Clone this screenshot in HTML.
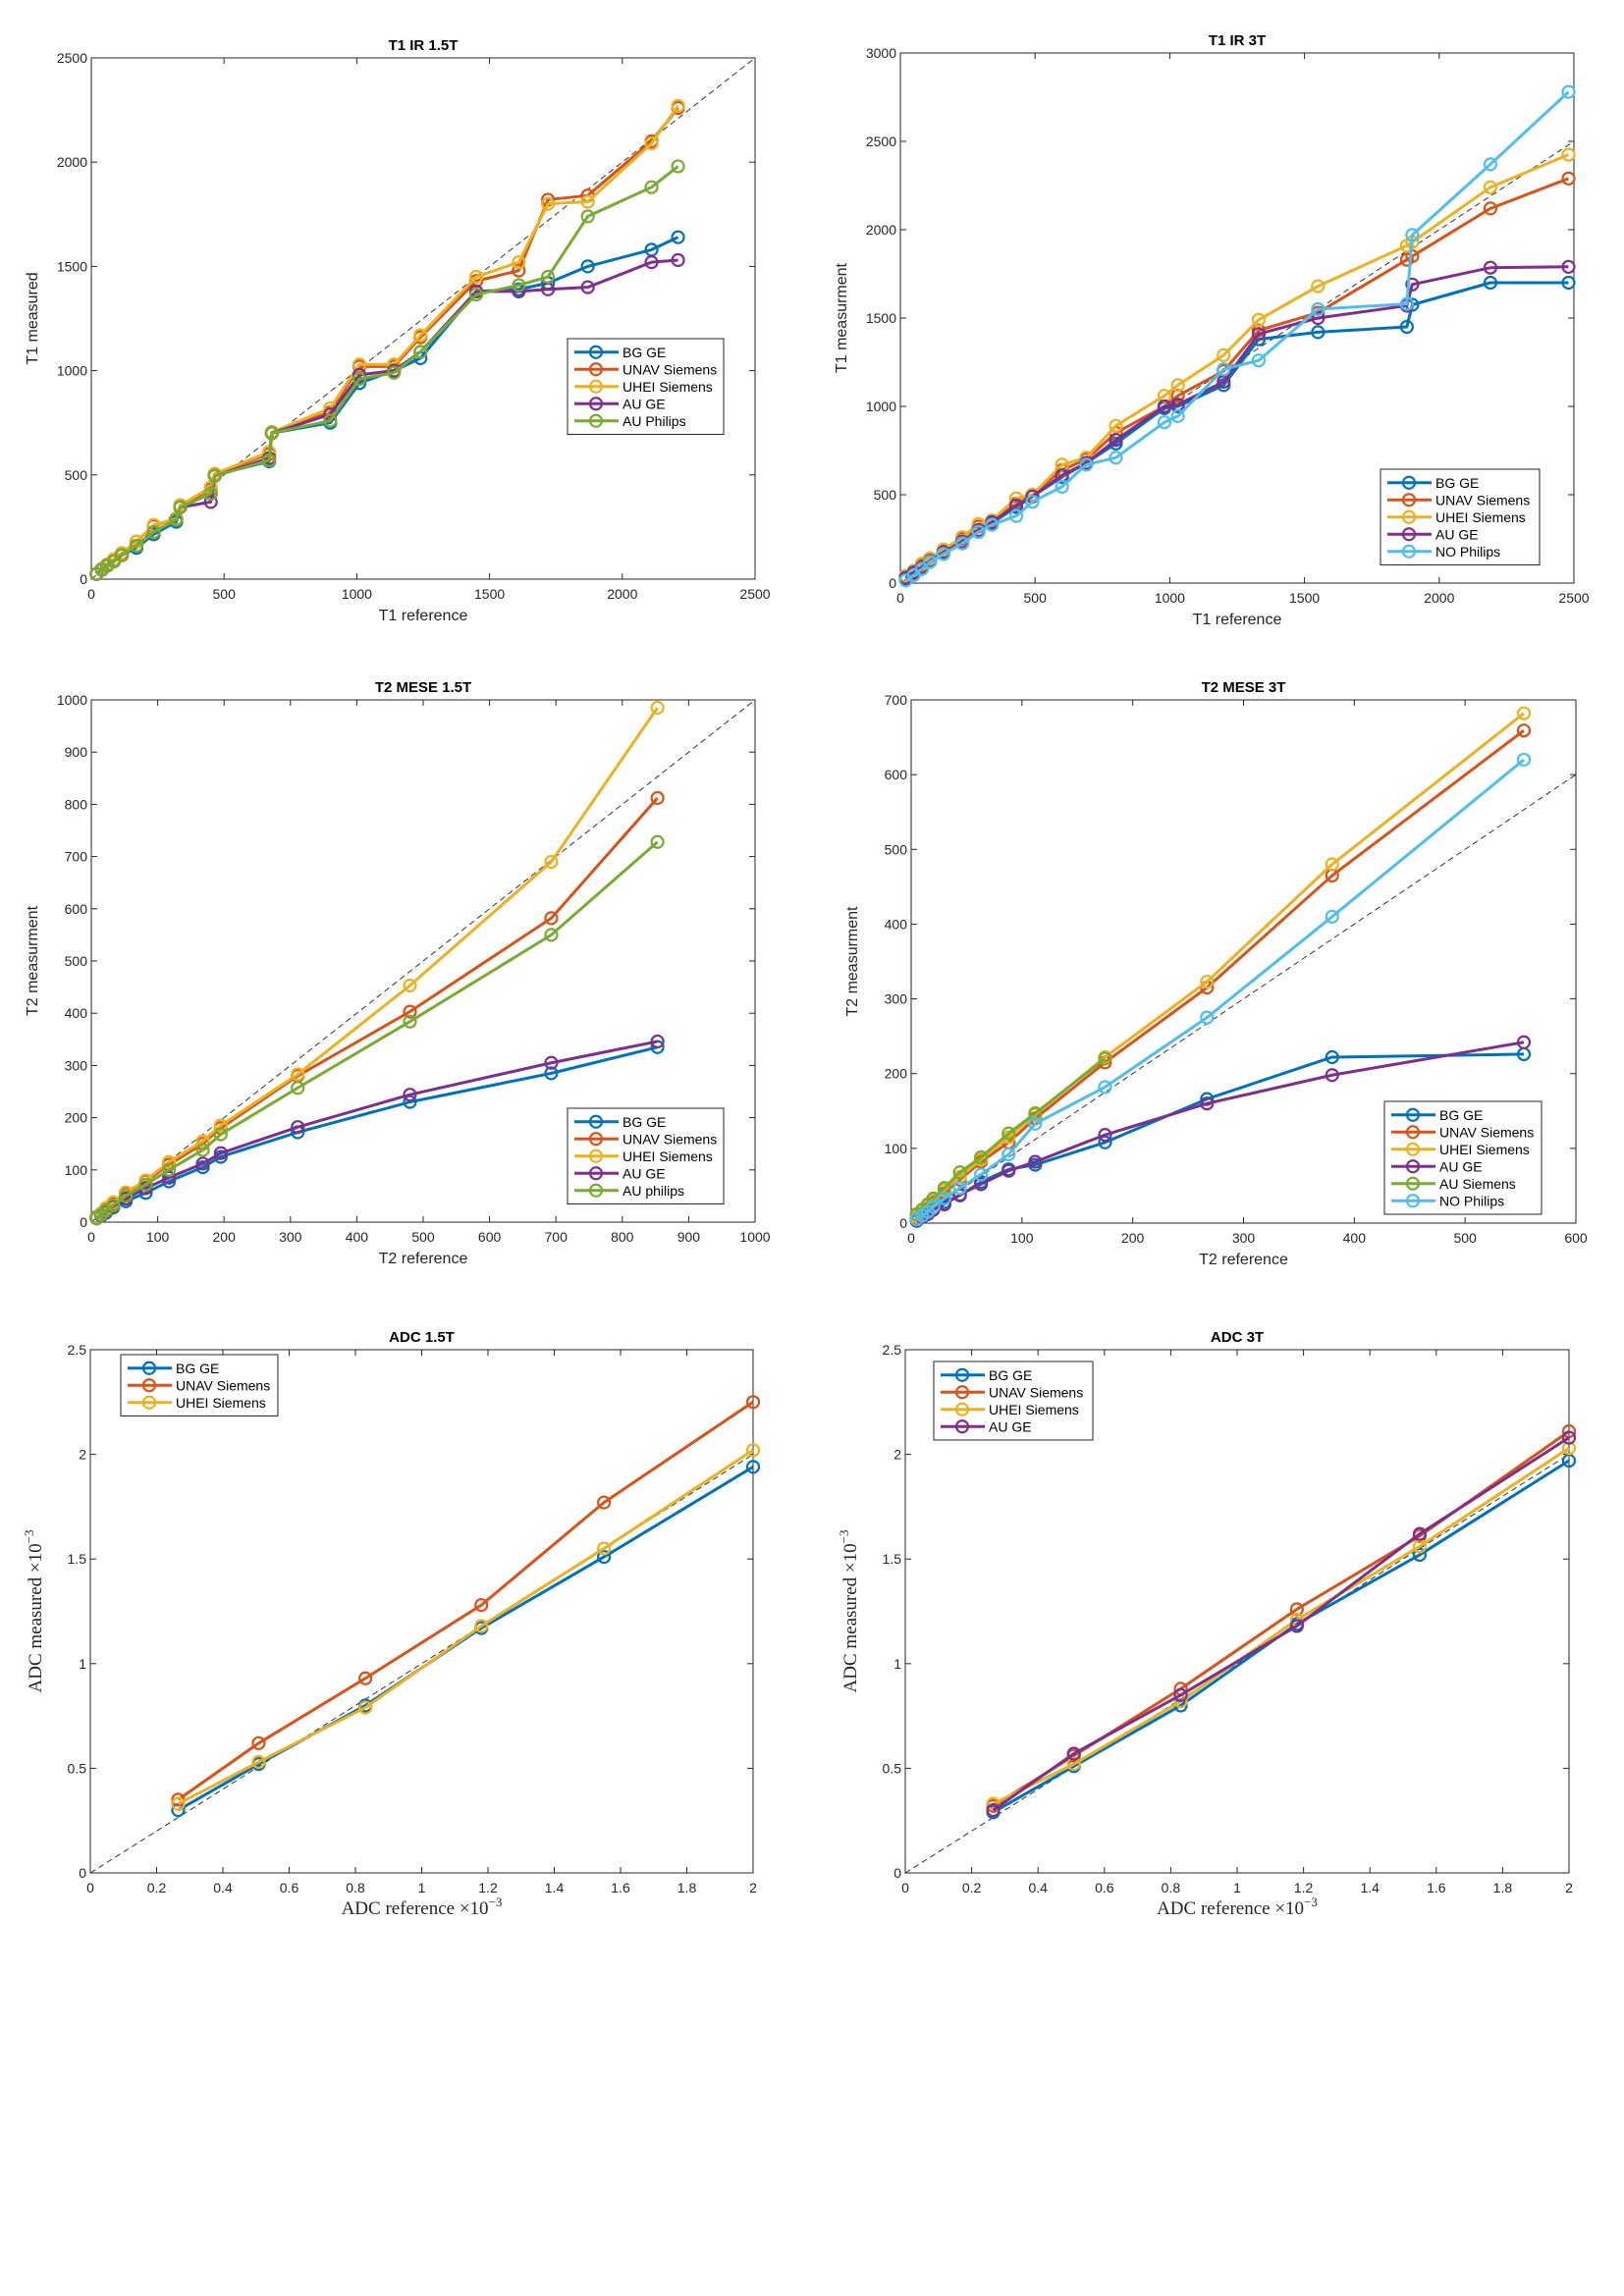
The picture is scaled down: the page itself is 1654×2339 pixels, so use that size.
<!DOCTYPE html>
<html><head><meta charset="utf-8"><style>
html,body{margin:0;padding:0;background:#fff;}
svg{display:block;font-family:"Liberation Sans",sans-serif;}
</style></head><body>
<svg id="fig" width="1654" height="2339" viewBox="0 0 1654 2339" xmlns="http://www.w3.org/2000/svg"></svg>
<script>
const COLORS=["#0072BD","#D95319","#EDB120","#7E2F8E","#77AC30","#4DBEEE"];
// ---- T1 IR 1.5T
const t1a_x=[20,40,60,85,115,170,235,320,335,450,465,670,680,900,1010,1140,1240,1450,1610,1720,1870,2110,2210];
const t1a_names=["BG GE","UNAV Siemens","UHEI Siemens","AU GE","AU Philips"];
const t1a_bg=[25,45,65,85,115,150,215,275,345,410,500,565,700,750,940,1000,1060,1380,1390,1420,1500,1580,1640];
const t1a_unav=[25,50,70,95,125,180,255,290,355,430,505,600,705,800,1020,1020,1160,1430,1480,1820,1840,2100,2260];
const t1a_uhei=[25,50,70,95,125,180,260,290,355,440,505,610,705,820,1030,1030,1170,1450,1520,1800,1810,2090,2270];
const t1a_auge=[25,45,65,85,115,160,225,285,345,370,495,580,700,790,980,1000,1090,1380,1380,1390,1400,1520,1530];
const t1a_aup=[25,45,65,85,115,160,225,285,345,410,495,570,700,760,960,990,1090,1365,1410,1450,1740,1880,1980];
const t1a_xticks=[0,500,1000,1500,2000,2500];
const t1a_yticks=[0,500,1000,1500,2000,2500];
// ---- T1 IR 3T
const t1b_x=[20,50,80,110,160,230,290,340,430,490,600,690,800,980,1030,1200,1330,1550,1880,1900,2190,2480];
const t1b_names=["BG GE","UNAV Siemens","UHEI Siemens","AU GE","NO Philips"];
const t1b_bg=[20,50,80,120,165,225,290,340,430,490,600,680,790,990,1000,1120,1380,1420,1450,1575,1700,1700];
const t1b_unav=[40,60,100,130,180,250,320,350,450,500,640,700,850,1000,1060,1200,1430,1530,1830,1850,2120,2290];
const t1b_uhei=[40,70,110,140,190,260,335,355,480,500,670,710,890,1060,1120,1290,1490,1680,1910,1930,2240,2425];
const t1b_auge=[30,60,90,125,175,235,300,345,440,490,610,680,810,1000,1010,1140,1410,1500,1570,1690,1785,1790];
const t1b_nop=[15,45,80,120,165,225,290,330,380,460,545,670,710,910,945,1210,1260,1550,1580,1970,2370,2780];
const t1b_xticks=[0,500,1000,1500,2000,2500];
const t1b_yticks=[0,500,1000,1500,2000,2500,3000];
// ---- T2 MESE 1.5T
const t2a_x=[8,15,22,33,52,82,117,168,195,311,480,693,853];
const t2a_names=["BG GE","UNAV Siemens","UHEI Siemens","AU GE","AU philips"];
const t2a_bg=[10,12,18,28,40,56,78,105,125,172,230,285,335];
const t2a_unav=[8,15,25,35,55,78,110,150,180,280,403,582,812];
const t2a_uhei=[9,17,27,38,57,80,115,155,185,283,453,690,985];
const t2a_auge=[7,13,20,30,45,65,85,112,132,182,244,305,346];
const t2a_aup=[7,14,22,32,50,72,100,138,168,257,384,550,728];
const t2a_xticks=[0,100,200,300,400,500,600,700,800,900,1000];
const t2a_yticks=[0,100,200,300,400,500,600,700,800,900,1000];
// ---- T2 MESE 3T
const t2b_x=[5,10,15,20,30,44,63,88,112,175,267,380,553];
const t2b_names=["BG GE","UNAV Siemens","UHEI Siemens","AU GE","AU Siemens","NO Philips"];
const t2b_bg=[3,8,12,18,28,37,55,72,78,108,166,222,226];
const t2b_unav=[8,13,20,28,40,58,82,108,140,215,315,465,659];
const t2b_uhei=[9,15,22,30,44,62,85,115,145,222,323,480,682];
const t2b_auge=[4,8,12,18,25,38,52,70,82,118,160,198,242];
const t2b_aus=[12,18,25,33,47,68,88,120,147,220,null,null,null];
const t2b_nop=[5,10,15,22,33,47,65,92,133,182,275,410,620];
const t2b_xticks=[0,100,200,300,400,500,600];
const t2b_yticks=[0,100,200,300,400,500,600,700];
// ---- ADC
const adc_x=[0.265,0.508,0.83,1.18,1.55,2.0];
const adca_names=["BG GE","UNAV Siemens","UHEI Siemens"];
const adca_bg=[0.30,0.52,0.80,1.17,1.51,1.94];
const adca_unav=[0.35,0.62,0.93,1.28,1.77,2.25];
const adca_uhei=[0.33,0.53,0.79,1.18,1.55,2.02];
const adcb_names=["BG GE","UNAV Siemens","UHEI Siemens","AU GE"];
const adcb_bg=[0.29,0.51,0.80,1.19,1.52,1.97];
const adcb_unav=[0.32,0.56,0.88,1.26,1.61,2.11];
const adcb_uhei=[0.33,0.52,0.82,1.21,1.56,2.03];
const adcb_auge=[0.30,0.57,0.85,1.18,1.62,2.08];
const adc_xticks=[0,0.2,0.4,0.6,0.8,1,1.2,1.4,1.6,1.8,2];
const adc_yticks=[0,0.5,1,1.5,2,2.5];

const NS="http://www.w3.org/2000/svg";
const svg=document.getElementById('fig');
function mk(tag,attrs,parent){const e=document.createElementNS(NS,tag);for(const k in attrs)e.setAttribute(k,attrs[k]);(parent||svg).appendChild(e);return e;}

function plot(o){
  const cols=o.colors||COLORS;
  const g=mk('g',{});
  
  
  const [L,R,T,B]=o.box;
  const xs=v=>L+(v-o.xr[0])/(o.xr[1]-o.xr[0])*(R-L);
  const ys=v=>B-(v-o.yr[0])/(o.yr[1]-o.yr[0])*(B-T);
  const fr=mk('rect',{x:L,y:T,width:R-L,height:B-T,fill:'#fff',stroke:'#262626','stroke-width':1},g);
  
  
  o.xt.forEach(v=>{const x=xs(v);
    mk('line',{x1:x,y1:B,x2:x,y2:B-6,stroke:'#262626'},g);
    mk('line',{x1:x,y1:T,x2:x,y2:T+6,stroke:'#262626'},g);
    const t=mk('text',{x:x,y:B+20,'text-anchor':'middle','font-size':14,fill:'#262626'},g);t.textContent=String(v);
    
    
  });
  o.yt.forEach(v=>{const y=ys(v);
    mk('line',{x1:L,y1:y,x2:L+6,y2:y,stroke:'#262626'},g);
    mk('line',{x1:R,y1:y,x2:R-6,y2:y,stroke:'#262626'},g);
    const t=mk('text',{x:L-4,y:y+5,'text-anchor':'end','font-size':14,fill:'#262626'},g);t.textContent=String(v);
    
    
  });
  const tt=mk('text',{x:(L+R)/2,y:T-8,'text-anchor':'middle','font-size':15,'font-weight':'bold',fill:'#000'},g);tt.textContent=o.title;
  
  
  const xl=mk('text',{x:(L+R)/2,y:B+42,'text-anchor':'middle','font-size':o.serif?19:16,fill:'#262626','font-family':o.serif?'"Liberation Serif",serif':'"Liberation Sans",sans-serif'},g);
  xl.innerHTML=o.xlabel;
  
  
  const yx=L-(o.serif?50:55), yy=(T+B)/2;
  const yl=mk('text',{x:yx,y:yy,'text-anchor':'middle','font-size':o.serif?19:16,fill:'#262626',transform:`rotate(-90 ${yx} ${yy})`,'font-family':o.serif?'"Liberation Serif",serif':'"Liberation Sans",sans-serif'},g);
  yl.innerHTML=o.ylabel;
  
  
  const m=Math.min(o.xr[1],o.yr[1]);
  const id=mk('line',{x1:xs(0),y1:ys(0),x2:xs(m),y2:ys(m),stroke:'#333','stroke-width':1,'stroke-dasharray':'6,4'},g);
  
  
  o.series.forEach((s,i)=>{
    const c=cols[i];
    const pts=[];
    o.x.forEach((xv,j)=>{if(s[j]!=null)pts.push([xs(xv),ys(s[j])]);});
    const pl=mk('polyline',{points:pts.map(p=>p.join(',')).join(' '),fill:'none',stroke:c,'stroke-width':3,'stroke-linejoin':'round'},g);
    
    
    pts.forEach(p=>{const ci=mk('circle',{cx:p[0],cy:p[1],r:6,fill:'none',stroke:c,'stroke-width':2.2},g);
      
      });
  });
  const [lx,ly,lw]=o.leg; const rh=17.5;
  const lg=mk('g',{},g);
  
  
  mk('rect',{x:lx,y:ly,width:lw,height:o.names.length*rh+10,fill:'#fff',stroke:'#262626','stroke-width':1},lg);
  o.names.forEach((n,i)=>{const y=ly+5+rh*(i+0.5);
    const e=mk('g',{},lg);
    
    
    mk('line',{x1:lx+7,y1:y,x2:lx+52,y2:y,stroke:cols[i],'stroke-width':3},e);
    mk('circle',{cx:lx+29,cy:y,r:6,fill:'none',stroke:cols[i],'stroke-width':2.2},e);
    const t=mk('text',{x:lx+56,y:y+5,'font-size':14,fill:'#000'},e);t.textContent=n;
  });
}
plot({id:'t1-ir-15t-chart',box:[93,769,59,590],xr:[0,2500],yr:[0,2500],xt:t1a_xticks,yt:t1a_yticks,title:'T1 IR 1.5T',xlabel:'T1 reference',ylabel:'T1 measured',x:t1a_x,series:[t1a_bg,t1a_unav,t1a_uhei,t1a_auge,t1a_aup],names:t1a_names,leg:[578,345,159]});
plot({id:'t1-ir-3t-chart',box:[917,1603,54,594],xr:[0,2500],yr:[0,3000],xt:t1b_xticks,yt:t1b_yticks,title:'T1 IR 3T',xlabel:'T1 reference',ylabel:'T1 measurment',x:t1b_x,series:[t1b_bg,t1b_unav,t1b_uhei,t1b_auge,t1b_nop],names:t1b_names,leg:[1406,478,162],colors:["#0072BD","#D95319","#EDB120","#7E2F8E","#4DBEEE"]});
plot({id:'t2-mese-15t-chart',box:[93,769,713,1245],xr:[0,1000],yr:[0,1000],xt:t2a_xticks,yt:t2a_yticks,title:'T2 MESE 1.5T',xlabel:'T2 reference',ylabel:'T2 measurment',x:t2a_x,series:[t2a_bg,t2a_unav,t2a_uhei,t2a_auge,t2a_aup],names:t2a_names,leg:[578,1129,159]});
plot({id:'t2-mese-3t-chart',box:[928,1605,713,1246],xr:[0,600],yr:[0,700],xt:t2b_xticks,yt:t2b_yticks,title:'T2 MESE 3T',xlabel:'T2 reference',ylabel:'T2 measurment',x:t2b_x,series:[t2b_bg,t2b_unav,t2b_uhei,t2b_auge,t2b_aus,t2b_nop],names:t2b_names,leg:[1410,1122,160]});
plot({id:'adc-15t-chart',box:[92,767,1375,1908],xr:[0,2],yr:[0,2.5],xt:adc_xticks,yt:adc_yticks,title:'ADC 1.5T',serif:true,xlabel:'ADC reference ×10<tspan dy="-8" font-size="13">−3</tspan>',ylabel:'ADC measured ×10<tspan dy="-8" font-size="13">−3</tspan>',x:adc_x,series:[adca_bg,adca_unav,adca_uhei],names:adca_names,leg:[123,1380,160]});
plot({id:'adc-3t-chart',box:[922,1598,1375,1908],xr:[0,2],yr:[0,2.5],xt:adc_xticks,yt:adc_yticks,title:'ADC 3T',serif:true,xlabel:'ADC reference ×10<tspan dy="-8" font-size="13">−3</tspan>',ylabel:'ADC measured ×10<tspan dy="-8" font-size="13">−3</tspan>',x:adc_x,series:[adcb_bg,adcb_unav,adcb_uhei,adcb_auge],names:adcb_names,leg:[951,1387,162]});
</script>
</body></html>
